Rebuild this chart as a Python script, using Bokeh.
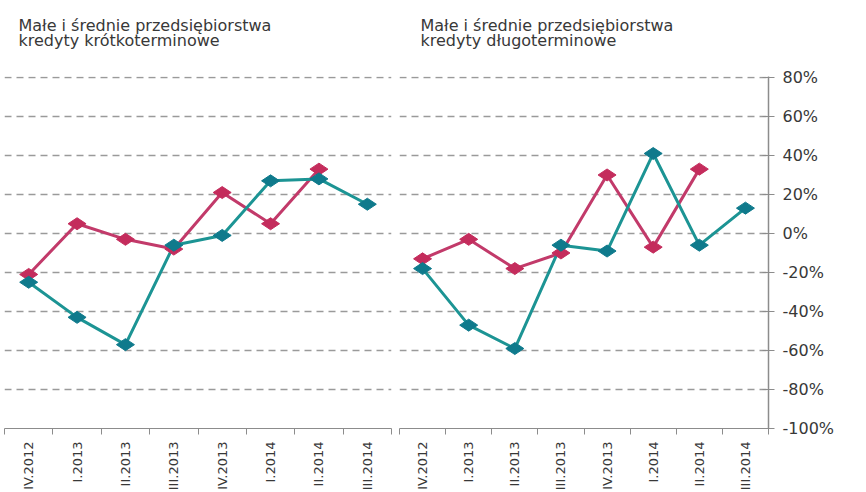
import math
from bokeh.plotting import figure
from bokeh.layouts import row
from bokeh.models import Range1d, FixedTicker, PrintfTickFormatter, LinearAxis, Title
from bokeh.embed import file_html
from bokeh.resources import INLINE

categories = ["IV.2012", "I.2013", "II.2013", "III.2013", "IV.2013", "I.2014", "II.2014", "III.2014"]

# short-term credits (left panel)
short_red = [-21, 5, -3, -8, 21, 5, 33]
short_teal = [-25, -43, -57, -6, -1, 27, 28, 15]

# long-term credits (right panel)
long_red = [-13, -3, -18, -10, 30, -7, 33]
long_teal = [-18, -47, -59, -6, -9, 41, -6, 13]

y_ticks = [-100, -80, -60, -40, -20, 0, 20, 40, 60, 80]

title_line1 = "Małe i średnie przedsiębiorstwa"
left_line2 = "kredyty krótkoterminowe"
right_line2 = "kredyty długoterminowe"

RED_LINE = "#c23a6a"
RED_MARK = "#c42c5c"
TEAL_LINE = "#1c9494"
TEAL_MARK = "#0f7a8c"
GRID = "#9a9a9a"
AXIS = "#8c8c8c"
TEXT = "#383838"
FONT = "DejaVu Sans"

centers = [i + 0.5 for i in range(len(categories))]
bounds = list(range(len(categories) + 1))
label_map = {c: lab for c, lab in zip(centers, categories)}


def make_panel(red, teal, line2, frame_w, right_axis, title_offset, border_left, border_right):
    p = figure(output_backend="svg", toolbar_location=None,
               frame_width=frame_w, frame_height=352,
               x_range=Range1d(0, len(categories)), y_range=Range1d(-100, 80.5),
               min_border_left=border_left, min_border_top=76, min_border_bottom=0,
               min_border_right=border_right,
               x_axis_location="below", y_axis_location=None)
    p.outline_line_color = None
    p.background_fill_color = "white"

    # spacer between titles and plot area, then the two title lines
    p.add_layout(Title(text=" ", text_font=FONT, text_font_size="26px",
                       text_color=TEXT, standoff=0), "above")
    p.add_layout(Title(text=line2, text_font=FONT, text_font_size="16px",
                       text_color=TEXT, text_font_style="normal", offset=title_offset,
                       standoff=-11), "above")
    p.add_layout(Title(text=title_line1, text_font=FONT, text_font_size="16px",
                       text_color=TEXT, text_font_style="normal", offset=title_offset,
                       standoff=0), "above")

    # x axis: ticks at boundaries (minor), labels at centers
    xa = p.xaxis[0]
    xa.ticker = FixedTicker(ticks=centers, minor_ticks=bounds)
    xa.major_label_overrides = label_map
    xa.major_label_orientation = math.pi / 2
    xa.major_label_text_font = FONT
    xa.major_label_text_font_size = "13px"
    xa.major_label_text_color = TEXT
    xa.major_tick_in = 0
    xa.major_tick_out = 0
    xa.minor_tick_in = 0
    xa.minor_tick_out = 6
    xa.minor_tick_line_color = AXIS
    xa.axis_line_color = AXIS
    xa.major_label_standoff = 7

    p.xgrid.visible = False
    p.ygrid.ticker = FixedTicker(ticks=y_ticks[1:])
    p.ygrid.grid_line_color = GRID
    p.ygrid.grid_line_dash = "7 5"
    p.ygrid.grid_line_width = 1.3

    if right_axis:
        ya = LinearAxis(ticker=FixedTicker(ticks=y_ticks),
                        formatter=PrintfTickFormatter(format="%d%%"))
        ya.major_label_text_font = FONT
        ya.major_label_text_font_size = "16px"
        ya.major_label_text_color = TEXT
        ya.axis_line_color = AXIS
        ya.axis_line_width = 1.5
        ya.major_tick_line_color = AXIS
        ya.major_tick_in = 6
        ya.major_tick_out = 6
        ya.minor_tick_line_color = None
        ya.major_label_standoff = 8
        p.add_layout(ya, "right")

    rx = centers[:len(red)]
    tx = centers[:len(teal)]
    p.line(rx, red, line_color=RED_LINE, line_width=3)
    p.line(tx, teal, line_color=TEAL_LINE, line_width=3)
    p.scatter(rx, red, marker="diamond", angle=math.pi / 2, size=18,
              fill_color=RED_MARK, line_color=RED_MARK)
    p.scatter(tx, teal, marker="diamond", angle=math.pi / 2, size=18,
              fill_color=TEAL_MARK, line_color=TEAL_MARK)
    return p


left = make_panel(short_red, short_teal, left_line2, 387, False, 14, 4, 8)
right = make_panel(long_red, long_teal, right_line2, 369, True, 21, 0, 0)

layout = row(left, right, spacing=0)

open("out.html", "w").write(file_html(layout, INLINE))
